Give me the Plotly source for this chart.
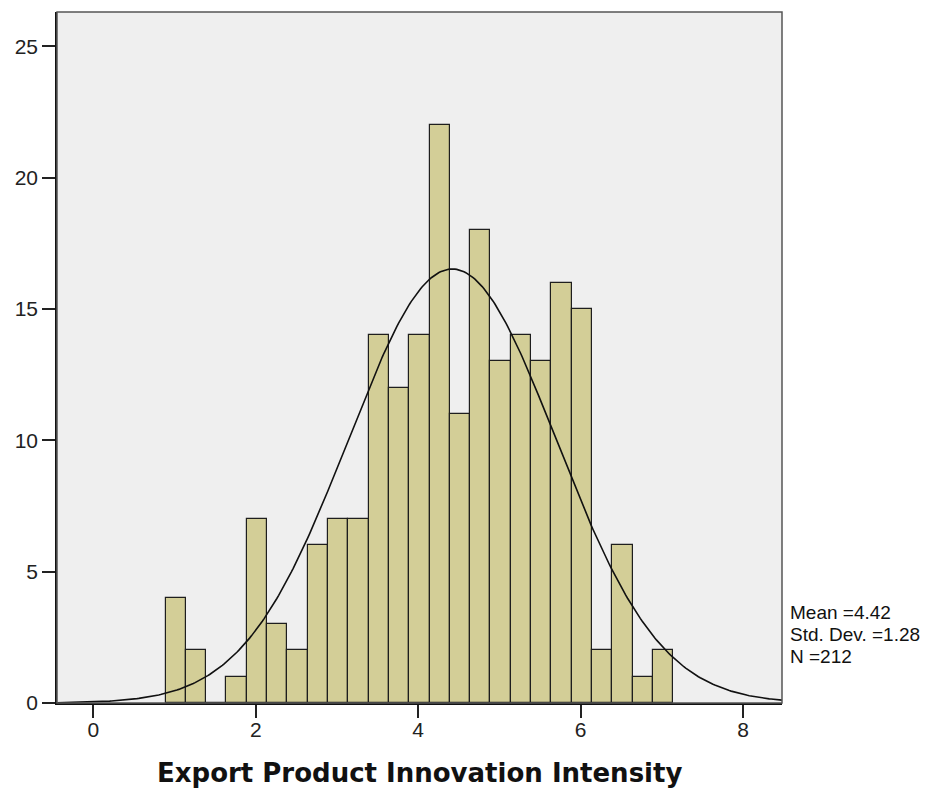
import numpy as np
import plotly.graph_objects as go

# Histogram of Export Product Innovation Intensity (bins of width 0.25)
bin_start = 0.89
bin_width = 0.25
counts = [4, 2, 0, 1, 7, 3, 2, 6, 7, 7, 14, 12, 14, 22, 11, 18, 13, 14, 13, 16, 15, 2, 6, 1, 2]

# Summary statistics shown beside the chart
mean_val = 4.42
std_val = 1.28
n_obs = 212

x_ticks = [0, 2, 4, 6, 8]
y_ticks = [0, 5, 10, 15, 20, 25]

centers = [bin_start + bin_width * (i + 0.5) for i in range(len(counts))]

# Fitted normal curve scaled to the histogram counts
x_range = [-0.447, 8.48]
xs = np.linspace(x_range[0], x_range[1], 400)
scale = n_obs * bin_width / (std_val * np.sqrt(2 * np.pi))
ys = scale * np.exp(-0.5 * ((xs - mean_val) / std_val) ** 2)

fig = go.Figure()
fig.add_trace(go.Bar(
    x=centers, y=counts, width=bin_width,
    marker=dict(color="#d3ce97", line=dict(color="#1e1e1e", width=1.2)),
    hoverinfo="x+y",
))
fig.add_trace(go.Scatter(
    x=xs, y=ys, mode="lines",
    line=dict(color="#111111", width=1.6),
    hoverinfo="skip",
))

tick_font = dict(family="Liberation Sans, Arial, sans-serif", size=21, color="#222222")

plot_top, plot_bottom = 12, 703
plot_h = plot_bottom - plot_top

fig.update_layout(
    width=950, height=788,
    margin=dict(l=57, r=168, t=plot_top, b=788 - plot_bottom, autoexpand=False),
    paper_bgcolor="white",
    plot_bgcolor="#efefef",
    showlegend=False,
    bargap=0,
    xaxis=dict(
        range=x_range, tickvals=x_ticks, ticktext=[str(v) for v in x_ticks],
        showgrid=False, zeroline=False, automargin=False,
        showline=True, linecolor="#111111", linewidth=1.5,
        ticks="outside", ticklen=13, tickwidth=1.5, tickcolor="#222222",
        tickfont=tick_font, ticklabelstandoff=-6,
    ),
    yaxis=dict(
        range=[0, 26.3], tickvals=y_ticks, ticktext=[str(v) for v in y_ticks],
        showgrid=False, zeroline=False, automargin=False,
        showline=True, linecolor="#111111", linewidth=1.5,
        ticks="outside", ticklen=13, tickwidth=1.5, tickcolor="#222222",
        tickfont=tick_font,
    ),
    shapes=[dict(type="rect", xref="paper", yref="paper", x0=0, x1=1, y0=0, y1=1,
                 line=dict(color="#555555", width=1.5), layer="above")],
)

# Axis title
fig.add_annotation(
    text="<b>Export Product Innovation Intensity</b>",
    xref="paper", yref="paper", x=0.5, xanchor="center",
    y=(plot_bottom - 773) / plot_h, yanchor="middle", showarrow=False,
    font=dict(family="DejaVu Sans, Verdana, sans-serif", size=26, color="#111111"),
)

# Stats block to the right of the plot area, one line per statistic
stat_lines = [f"Mean ={mean_val:.2f}", f"Std. Dev. ={std_val:.2f}", f"N ={n_obs}"]
for i, txt in enumerate(stat_lines):
    fig.add_annotation(
        text=txt, xref="paper", yref="paper",
        x=1.0, xshift=6, xanchor="left",
        y=(plot_bottom - (612.5 + 21.8 * i)) / plot_h, yanchor="middle",
        showarrow=False,
        font=dict(family="Liberation Sans, Arial, sans-serif", size=19, color="#111111"),
    )

fig.write_html("out.html")
